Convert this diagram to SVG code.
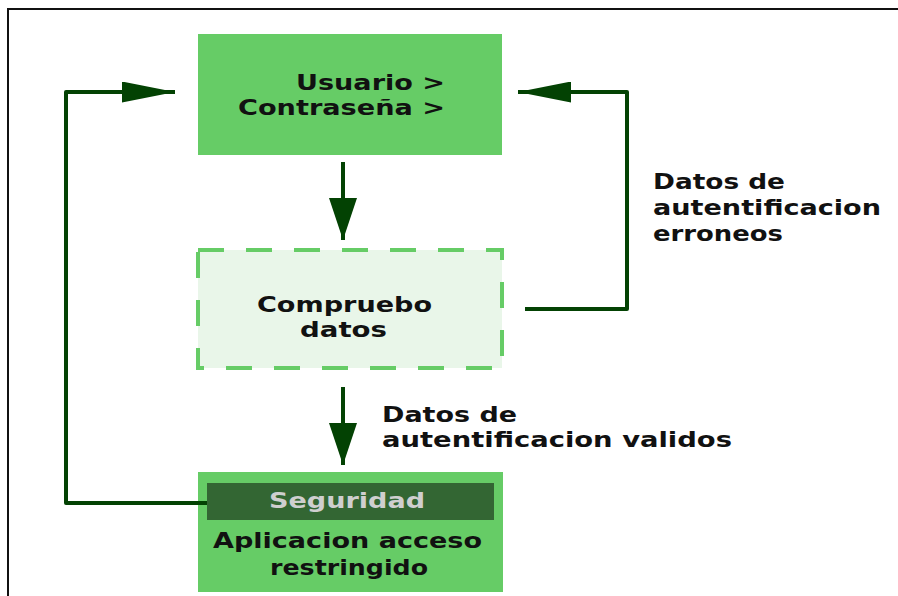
<svg xmlns="http://www.w3.org/2000/svg" width="898" height="596" viewBox="0 0 898 596">
  <style>
    .t { font-family: "DejaVu Sans", Verdana, sans-serif; font-weight: bold; font-size: 22px; fill: #111; }
    .light { fill: #cfcfcf; }
    .box { fill: #66cc66; }
    .dash { fill: #e9f6e9; stroke: #66cc66; stroke-width: 4; stroke-dasharray: 26 22; }
    .conn { fill: none; stroke: #034203; stroke-width: 4; stroke-linejoin: round; }
  </style>
  <defs>
    <marker id="arrV" markerUnits="userSpaceOnUse" viewBox="0 0 42 28" refX="42" refY="14" markerWidth="42" markerHeight="28" orient="auto">
      <path d="M0,0 L42,14 L0,28 z" fill="#034203"/>
    </marker>
    <marker id="arrH" markerUnits="userSpaceOnUse" viewBox="0 0 53 21" refX="53" refY="10.5" markerWidth="53" markerHeight="21" orient="auto">
      <path d="M0,0 L53,10.5 L0,21 z" fill="#034203"/>
    </marker>
  </defs>
  <rect width="898" height="596" fill="#ffffff"/>
  <path d="M8,596 L8,9 L898,9" fill="none" stroke="#111" stroke-width="2"/>

  <g id="login">
    <rect class="box" x="198" y="34" width="304" height="121"/>
    <text class="t" x="296" y="90" textLength="149" lengthAdjust="spacingAndGlyphs">Usuario &gt;</text>
    <text class="t" x="238" y="115" textLength="207" lengthAdjust="spacingAndGlyphs">Contraseña &gt;</text>
  </g>

  <g id="check">
    <rect class="dash" x="198" y="250" width="304" height="118"/>
    <text class="t" x="257" y="312" textLength="175" lengthAdjust="spacingAndGlyphs">Compruebo</text>
    <text class="t" x="300" y="337" textLength="87" lengthAdjust="spacingAndGlyphs">datos</text>
  </g>

  <g id="app">
    <rect class="box" x="198" y="472" width="305" height="120"/>
    <rect x="207" y="483" width="287" height="37" fill="#336633"/>
    <text class="t light" x="269" y="508" textLength="156" lengthAdjust="spacingAndGlyphs">Seguridad</text>
    <text class="t" x="213" y="548" textLength="269" lengthAdjust="spacingAndGlyphs">Aplicacion acceso</text>
    <text class="t" x="270" y="575" textLength="158" lengthAdjust="spacingAndGlyphs">restringido</text>
  </g>

  <g id="connectors">
    <path class="conn" d="M343,162 L343,240" marker-end="url(#arrV)"/>
    <path class="conn" d="M343,387 L343,465" marker-end="url(#arrV)"/>
    <path class="conn" d="M207,503 L66,503 L66,92 L175,92" marker-end="url(#arrH)"/>
    <path class="conn" d="M525,309 L627,309 L627,92 L518,92" marker-end="url(#arrH)"/>
  </g>

  <g id="labels">
    <text class="t" x="653" y="189" textLength="132" lengthAdjust="spacingAndGlyphs">Datos de</text>
    <text class="t" x="653" y="215" textLength="228" lengthAdjust="spacingAndGlyphs">autentificacion</text>
    <text class="t" x="653" y="241" textLength="130" lengthAdjust="spacingAndGlyphs">erroneos</text>
    <text class="t" x="382" y="422" textLength="135" lengthAdjust="spacingAndGlyphs">Datos de</text>
    <text class="t" x="382" y="447" textLength="350" lengthAdjust="spacingAndGlyphs">autentificacion validos</text>
  </g>
</svg>
